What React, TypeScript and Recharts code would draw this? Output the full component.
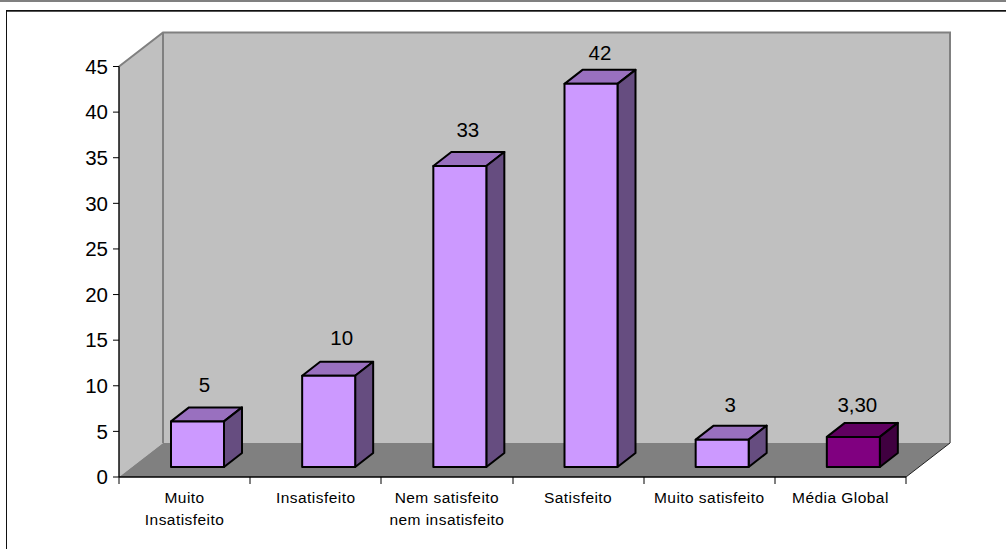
import React from "react";
import { BarChart, Bar, XAxis, YAxis, ReferenceArea, LabelList } from "recharts";

const categories = [
  "Muito\nInsatisfeito",
  "Insatisfeito",
  "Nem satisfeito\nnem insatisfeito",
  "Satisfeito",
  "Muito satisfeito",
  "Média Global",
];
const values = [5, 10, 33, 42, 3, 3.3];
const valueLabels = ["5", "10", "33", "42", "3", "3,30"];
const yTicks = [0, 5, 10, 15, 20, 25, 30, 35, 40, 45];

const data = categories.map((name, i) => ({ name, value: values[i], label: valueLabels[i] }));

const FONT = "'Liberation Sans', Arial, sans-serif";
const DEPTH_X = 44;
const DEPTH_Y = 34;
const BAR_DX = 13;
const BAR_DY = 10;
const BAR_DEPTH_X = 18;
const BAR_DEPTH_Y = 14;

const pts = (p: number[][]) => p.map((q) => q.join(",")).join(" ");

function Walls(props: any) {
  const { x, y, width, height } = props;
  const r = x + width;
  const b = y + height;
  return (
    <g>
      <polygon points={pts([[x, y], [x + DEPTH_X, y - DEPTH_Y], [r + DEPTH_X, y - DEPTH_Y], [r + DEPTH_X, b - DEPTH_Y], [x + DEPTH_X, b - DEPTH_Y], [x, b]])} fill="#C0C0C0" />
      <polyline points={pts([[x, y], [x + DEPTH_X, y - DEPTH_Y], [r + DEPTH_X, y - DEPTH_Y], [r + DEPTH_X, b - DEPTH_Y]])} fill="none" stroke="#808080" strokeWidth={2} />
      <line x1={x + DEPTH_X} y1={y - DEPTH_Y} x2={x + DEPTH_X} y2={b - DEPTH_Y} stroke="#808080" strokeWidth={2} />
      <polygon points={pts([[x, b], [x + DEPTH_X, b - DEPTH_Y], [r + DEPTH_X, b - DEPTH_Y], [r, b]])} fill="#808080" />
      <line x1={r} y1={b} x2={r + DEPTH_X} y2={b - DEPTH_Y} stroke="#222" strokeWidth={1} />
      {categories.map((_, i) => i).concat(categories.length).map((i) => {
        const tx = Math.round(x + (i * width) / categories.length);
        return <line key={i} x1={tx} y1={b} x2={tx} y2={b + 7} stroke="#000" strokeWidth={1} />;
      })}
    </g>
  );
}

function Bar3D(props: any) {
  const { x, y, width, height, payload } = props;
  const dark = payload.name === "Média Global";
  const front = dark ? "#800080" : "#CC99FF";
  const top = dark ? "#600060" : "#9970BF";
  const side = dark ? "#400040" : "#664D80";
  const l = x + BAR_DX;
  const r = l + width;
  const t = y - BAR_DY;
  const b = t + height;
  const dx = BAR_DEPTH_X;
  const dy = BAR_DEPTH_Y;
  const common = { stroke: "#000", strokeWidth: 2, strokeLinejoin: "round" as const };
  return (
    <g>
      <polygon points={pts([[l, t], [l + dx, t - dy], [r + dx, t - dy], [r, t]])} fill={top} {...common} />
      <polygon points={pts([[r, t], [r + dx, t - dy], [r + dx, b - dy], [r, b]])} fill={side} {...common} />
      <polygon points={pts([[l, t], [r, t], [r, b], [l, b]])} fill={front} {...common} />
    </g>
  );
}

function ValueLabel(props: any) {
  const { x, y, width, value } = props;
  const nudgeX = value === "10" ? 5 : value === "3,30" ? -4 : value === "42" ? 1 : value === "5" ? -1 : 0;
  const nudgeY = value === "42" ? 5 : value === "3,30" ? 4 : value === "10" ? -2 : value === "3" ? 1 : 0;
  return (
    <text x={x + width / 2 + BAR_DX + 8 + nudgeX} y={y - BAR_DY - 29 + nudgeY} textAnchor="middle" fontFamily={FONT} fontSize={20.5} fill="#000">
      {value}
    </text>
  );
}

function CategoryTick(props: any) {
  const { x, y, payload } = props;
  const lines = String(payload.value).split("\n");
  return (
    <text textAnchor="middle" fontFamily={FONT} fontSize={15.5} letterSpacing={0.45} fill="#000">
      {lines.map((line, i) => (
        <tspan key={i} x={x} y={y + 19 + i * 22}>
          {line}
        </tspan>
      ))}
    </text>
  );
}

export default function App() {
  return (
    <div style={{ position: "absolute", left: 0, top: 0, width: 1006, height: 549, background: "#fff", overflow: "hidden" }}>
      <div style={{ position: "absolute", left: 0, top: 0, width: 1006, height: 2, background: "#808080" }} />
      <div style={{ position: "absolute", left: 6, top: 10, width: 1000, height: 1, background: "#111", borderBottom: "1px solid #555" }} />
      <div style={{ position: "absolute", left: 6, top: 10, width: 1, height: 539, background: "#111" }} />
      <BarChart
        width={1006}
        height={549}
        data={data}
        margin={{ top: 66.5, right: 100, bottom: 0, left: 0 }}
        style={{ position: "absolute", left: 0, top: 0 }}
      >
        <ReferenceArea yAxisId={0} xAxisId={0} y1={0} y2={45} shape={<Walls />} ifOverflow="visible" />
        <XAxis
          dataKey="name"
          height={72}
          interval={0}
          tick={<CategoryTick />}
          tickLine={false}
          tickSize={0}
          tickMargin={7}
          axisLine={{ stroke: "#000", strokeWidth: 1.4 }}
          scale="band"
          padding={{ left: 0, right: 0 }}
        />
        <YAxis
          width={119}
          domain={[0, 45]}
          ticks={yTicks}
          interval={0}
          tickSize={6}
          tickMargin={5}
          axisLine={{ stroke: "#000", strokeWidth: 1.4 }}
          tickLine={{ stroke: "#000", strokeWidth: 1 }}
          tick={{ fontFamily: FONT, fontSize: 20.5, fill: "#000" }}
        />
        <Bar dataKey="value" barSize={53} shape={<Bar3D />} isAnimationActive={false}>
          <LabelList dataKey="label" content={<ValueLabel />} />
        </Bar>
      </BarChart>
    </div>
  );
}
